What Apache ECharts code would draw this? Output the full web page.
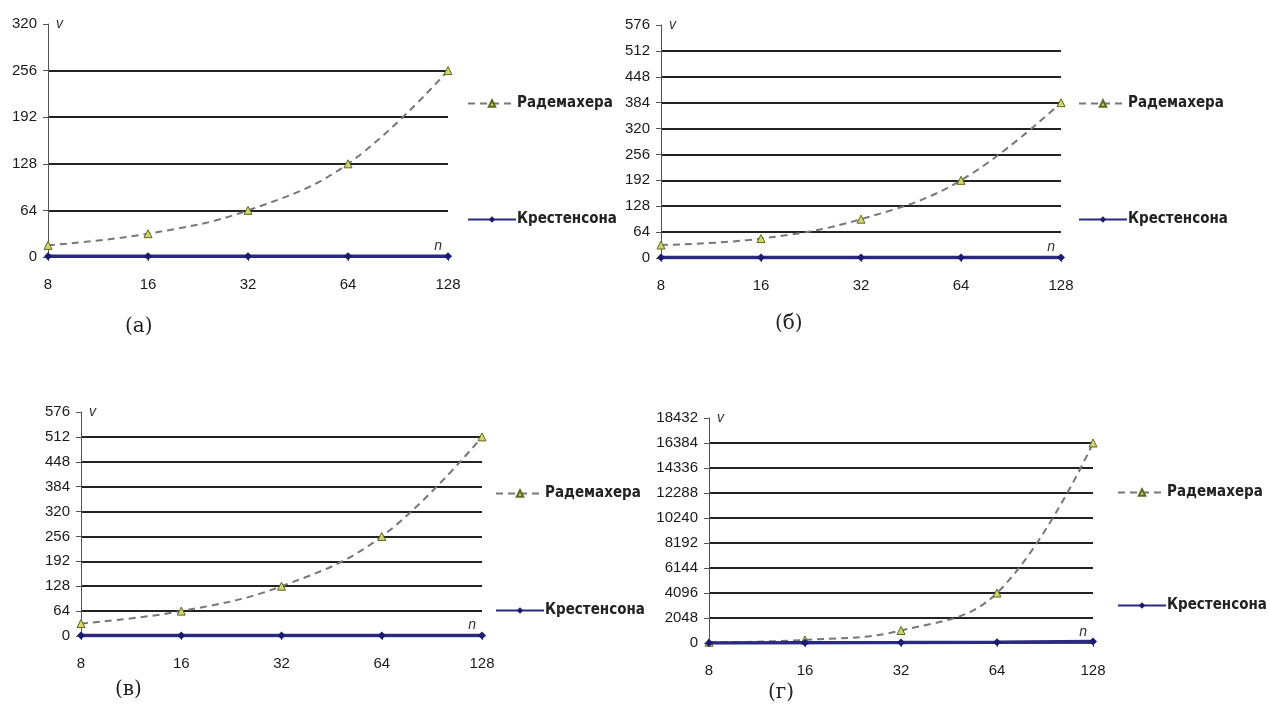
<!DOCTYPE html>
<html><head><meta charset="utf-8">
<script src="https://cdn.jsdelivr.net/npm/echarts@6/dist/echarts.min.js"></script>
<style>html,body{margin:0;padding:0;background:#fff}#c{width:1270px;height:713px}</style>
</head><body><div id="c"></div>
<script>
const nValues = [8, 16, 32, 64, 128];
const radA = [16, 32, 64, 128, 256];
const kreA = [1, 1, 1, 1, 1];
const radB = [32, 48, 96, 192, 384];
const kreB = [1, 1, 1, 1, 1];
const radC = [32, 64, 128, 256, 512];
const kreC = [1, 1, 1, 1, 1];
const radD = [64, 256, 1024, 4096, 16384];
const kreD = [8, 16, 32, 64, 128];
const yMax = [320, 576, 576, 18432];
const yStep = [64, 64, 64, 2048];
const panelLabels = ['(а)', '(б)', '(в)', '(г)'];
const nameR = 'Радемахера', nameK = 'Крестенсона';

const grids = [
  {left: 48, top: 24, width: 400, height: 233},
  {left: 661, top: 25, width: 400, height: 233},
  {left: 81, top: 412, width: 401, height: 224},
  {left: 709, top: 418, width: 384, height: 225}
];
const legendPos = [
  {left: 462, top: 91, itemGap: 101},
  {left: 1073, top: 91, itemGap: 101},
  {left: 490, top: 481, itemGap: 102},
  {left: 1112, top: 480, itemGap: 98}
];
const labelPos = [[140, 330], [790, 327], [130, 693], [783, 696]];
const rad = [radA, radB, radC, radD], kre = [kreA, kreB, kreC, kreD];
const tickFont = {fontFamily: '"Liberation Sans", Arial, sans-serif', fontSize: 15, color: '#1a1a1a'};

const xAxis = [], yAxis = [], series = [], legend = [], graphic = [];
for (let i = 0; i < 4; i++) {
  xAxis.push({
    type: 'category', gridIndex: i, data: nValues, boundaryGap: false,
    axisLine: {lineStyle: {color: '#555', width: 1}},
    axisTick: {show: true, length: 4, lineStyle: {color: '#555'}},
    axisLabel: Object.assign({margin: 20}, tickFont),
    splitLine: {show: false},
    name: 'n', nameLocation: 'end', nameGap: -6,
    nameTextStyle: {fontFamily: 'Liberation Sans', fontStyle: 'italic', fontSize: 14, color: '#333', align: 'right', verticalAlign: 'bottom', padding: [0, 0, 4, 0]}
  });
  yAxis.push({
    type: 'value', gridIndex: i, min: 0, max: yMax[i], interval: yStep[i],
    axisLine: {show: true, lineStyle: {color: '#555', width: 1}},
    axisTick: {show: true, length: 5, lineStyle: {color: '#555'}},
    axisLabel: Object.assign({margin: 11, formatter: v => String(v)}, tickFont),
    splitLine: {show: true, showMinLine: false, showMaxLine: false, lineStyle: {color: '#222', width: 2}},
    name: 'v', nameLocation: 'end', nameGap: 0,
    nameTextStyle: {fontFamily: 'Liberation Sans', fontStyle: 'italic', fontSize: 14, color: '#333', align: 'left', verticalAlign: 'middle', padding: [0, 0, 0, 8]}
  });
  series.push({
    name: nameR, type: 'line', xAxisIndex: i, yAxisIndex: i, data: rad[i], smooth: 0.4,
    symbol: 'triangle', symbolSize: 8,
    itemStyle: {color: '#d4d46a', borderColor: '#5a6b20', borderWidth: 1},
    lineStyle: {color: '#777', width: 2, type: [7, 5]}, z: 3
  });
  series.push({
    name: nameK, type: 'line', xAxisIndex: i, yAxisIndex: i, data: kre[i],
    symbol: 'diamond', symbolSize: 8,
    itemStyle: {color: '#1a1a70'},
    lineStyle: {color: '#2a2a82', width: 3.5}, z: 4
  });
  legend.push({
    orient: 'vertical', left: legendPos[i].left, top: legendPos[i].top, itemGap: legendPos[i].itemGap,
    itemWidth: 48, itemHeight: 8, data: [nameR, nameK],
    textStyle: {fontFamily: '"DejaVu Sans Condensed",sans-serif', fontWeight: 'bold', fontSize: 15, color: '#222', padding: [0, 0, 0, -4]}
  });
  graphic.push({
    type: 'text', left: labelPos[i][0] - 15, top: labelPos[i][1] - 13,
    style: {text: panelLabels[i], font: '20px "DejaVu Serif", serif', fill: '#222'}
  });
}

const chart = echarts.init(document.getElementById('c'), null, {renderer: 'canvas'});
chart.setOption({
  animation: false, backgroundColor: '#fff',
  grid: grids, xAxis, yAxis, series, legend, graphic
});
</script></body></html>
